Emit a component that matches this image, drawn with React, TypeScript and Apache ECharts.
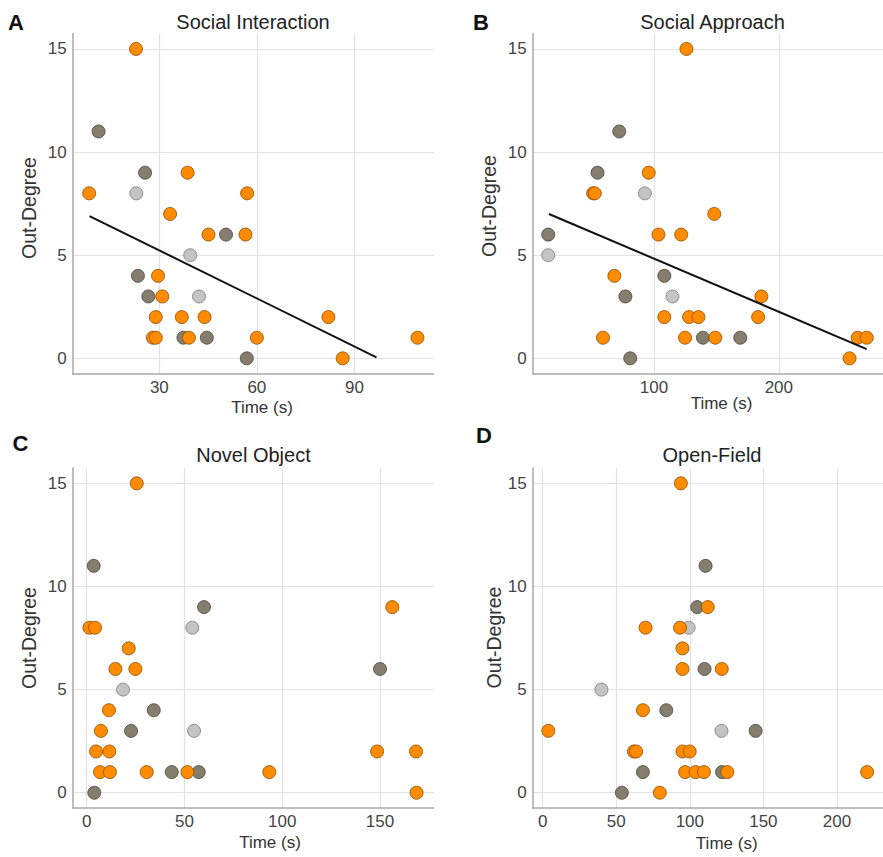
import React, { useEffect, useRef } from "react";
import * as echarts from "echarts";

// ---------- data ----------
const yTicks = [0, 5, 10, 15];
const siTicks = [30, 60, 90];
const saTicks = [100, 200];
const noTicks = [0, 50, 100, 150];
const ofTicks = [0, 50, 100, 150, 200];

const panelTitles = ["Social Interaction", "Social Approach", "Novel Object", "Open-Field"];
const panelLetters = ["A", "B", "C", "D"];

// Social Interaction: [time (s), out-degree]
const siOrange = [[22.8, 15], [38.7, 9], [8.4, 8], [57.0, 8], [33.3, 7], [45.1, 6], [56.5, 6], [29.6, 4], [30.9, 3], [28.9, 2], [36.9, 2], [43.9, 2], [82.0, 2], [28.0, 1], [28.9, 1], [39.1, 1], [60.0, 1], [109.4, 1], [86.4, 0]];
const siDark = [[11.3, 11], [25.6, 9], [50.5, 6], [23.4, 4], [26.6, 3], [37.4, 1], [44.6, 1], [56.9, 0]];
const siLight = [[22.9, 8], [39.5, 5], [42.2, 3]];
const siFit = [[8.5, 6.9], [96.8, 0.05]];

// Social Approach
const saOrange = [[126.0, 15], [95.8, 9], [51.3, 8], [52.6, 8], [148.3, 7], [103.6, 6], [121.8, 6], [68.3, 4], [186.0, 3], [108.3, 2], [128.1, 2], [135.6, 2], [183.4, 2], [59.2, 1], [124.9, 1], [149.1, 1], [263.1, 1], [270.4, 1], [256.6, 0]];
const saDark = [[72.2, 11], [54.8, 9], [15.3, 6], [108.3, 4], [77.1, 3], [139.2, 1], [169.1, 1], [81.0, 0]];
const saLight = [[92.7, 8], [15.3, 5], [114.8, 3]];
const saFit = [[15.9, 7.0], [270.3, 0.45]];

// Novel Object
const noOrange = [[25.6, 15], [156.3, 9], [1.4, 8], [4.3, 8], [21.5, 7], [14.7, 6], [24.9, 6], [11.4, 4], [7.3, 3], [4.8, 2], [11.6, 2], [148.5, 2], [168.4, 2], [6.8, 1], [11.9, 1], [30.7, 1], [51.5, 1], [93.4, 1], [168.7, 0]];
const noDark = [[3.6, 11], [60.0, 9], [150.0, 6], [34.3, 4], [22.7, 3], [43.5, 1], [57.3, 1], [3.9, 0]];
const noLight = [[54.0, 8], [18.6, 5], [54.9, 3]];

// Open-Field
const ofOrange = [[93.9, 15], [112.2, 9], [69.9, 8], [93.3, 8], [95.0, 7], [95.0, 6], [121.7, 6], [68.1, 4], [3.8, 3], [62.0, 2], [63.5, 2], [95.0, 2], [99.9, 2], [96.8, 1], [103.9, 1], [109.6, 1], [125.5, 1], [220.5, 1], [79.6, 0]];
const ofDark = [[110.7, 11], [105.0, 9], [110.0, 6], [84.0, 4], [144.7, 3], [68.1, 1], [121.9, 1], [53.8, 0]];
const ofLight = [[99.2, 8], [39.9, 5], [121.5, 3]];

// ---------- styles ----------
const FONT = "Liberation Sans, Arial, sans-serif";
const ORANGE = "#FF8C00";
const DARK = "#857D6E";
const LIGHT = "#C4C4C4";

const grids = [
  { left: 72.7, top: 33.5, width: 361, height: 340.3 },
  { left: 532.7, top: 33.5, width: 360, height: 340.3 },
  { left: 72.7, top: 467.9, width: 361, height: 340.3 },
  { left: 532.7, top: 467.9, width: 360, height: 340.3 },
];
const xRanges = [
  [3.34, 114.4],
  [2.9, 283.4],
  [-7.14, 177.45],
  [-6.81, 231.3],
];
const xTickSets = [siTicks, saTicks, noTicks, ofTicks];

export default function App() {
  const ref = useRef<HTMLDivElement>(null);

  useEffect(() => {
    if (!ref.current) return;
    const chart = echarts.init(ref.current, undefined, { renderer: "svg" });

    const axisLine = { show: true, onZero: false, lineStyle: { color: "#a8a8a8", width: 1.5 } };
    const splitLine = { show: true, lineStyle: { color: "#e2e2e2", width: 1.2 } };

    const xAxis = xTickSets.map((ticks, i) => ({
      type: "value",
      gridIndex: i,
      min: xRanges[i][0],
      max: xRanges[i][1],
      axisLine,
      axisTick: { show: false, customValues: ticks },
      axisLabel: { customValues: ticks, fontSize: 17, color: "#444", margin: 5, fontFamily: FONT },
      splitLine,
    }));
    const yAxis = grids.map((_, i) => ({
      type: "value",
      gridIndex: i,
      min: -0.75,
      max: 15.75,
      axisLine,
      axisTick: { show: false, customValues: yTicks },
      axisLabel: { customValues: yTicks, fontSize: 17, color: "#444", margin: 6, fontFamily: FONT },
      splitLine,
    }));

    const scatter = (data: number[][], idx: number, color: string, border: string) => ({
      type: "scatter",
      xAxisIndex: idx,
      yAxisIndex: idx,
      data,
      symbolSize: 13,
      itemStyle: { color, borderColor: border, borderWidth: 0.8, opacity: 1 },
      z: 3,
    });
    const fit = (data: number[][], idx: number) => ({
      type: "line",
      xAxisIndex: idx,
      yAxisIndex: idx,
      data,
      showSymbol: false,
      symbol: "none",
      lineStyle: { color: "#111", width: 2 },
      z: 5,
    });

    const series = [
      scatter(siDark, 0, DARK, "#4a4438"),
      scatter(siLight, 0, LIGHT, "#7a7a7a"),
      scatter(siOrange, 0, ORANGE, "#8a4b00"),
      fit(siFit, 0),
      scatter(saDark, 1, DARK, "#4a4438"),
      scatter(saLight, 1, LIGHT, "#7a7a7a"),
      scatter(saOrange, 1, ORANGE, "#8a4b00"),
      fit(saFit, 1),
      scatter(noDark, 2, DARK, "#4a4438"),
      scatter(noLight, 2, LIGHT, "#7a7a7a"),
      scatter(noOrange, 2, ORANGE, "#8a4b00"),
      scatter(ofDark, 3, DARK, "#4a4438"),
      scatter(ofLight, 3, LIGHT, "#7a7a7a"),
      scatter(ofOrange, 3, ORANGE, "#8a4b00"),
    ];

    const titlePos = [[253, 22], [712.5, 22], [253.5, 455], [712, 455]];
    const letterPos = [[8, 22], [473, 22], [12.5, 443], [476, 435]];
    const yNamePos = [[29, 208], [488.5, 206], [28.5, 638], [493.5, 637.5]];
    const xNamePos = [[262, 407.5], [721.5, 403], [270, 842], [726.7, 843]];

    const graphic: any[] = [];
    for (let i = 0; i < 4; i++) {
      graphic.push({
        type: "text",
        x: titlePos[i][0],
        y: titlePos[i][1],
        style: { text: panelTitles[i], fontSize: 20, fontFamily: FONT, fill: "#222", textAlign: "center", textVerticalAlign: "middle" },
      });
      graphic.push({
        type: "text",
        x: letterPos[i][0],
        y: letterPos[i][1],
        style: { text: panelLetters[i], fontSize: 22, fontWeight: "bold", fontFamily: FONT, fill: "#111", textAlign: "left", textVerticalAlign: "middle" },
      });
      graphic.push({
        type: "text",
        x: yNamePos[i][0],
        y: yNamePos[i][1],
        rotation: Math.PI / 2,
        style: { text: "Out-Degree", fontSize: 19.5, fontFamily: FONT, fill: "#333", textAlign: "center", textVerticalAlign: "middle" },
      });
      graphic.push({
        type: "text",
        x: xNamePos[i][0],
        y: xNamePos[i][1],
        style: { text: "Time (s)", fontSize: 17, fontFamily: FONT, fill: "#333", textAlign: "center", textVerticalAlign: "middle" },
      });
    }

    chart.setOption({
      animation: false,
      backgroundColor: "#ffffff",
      grid: grids,
      xAxis,
      yAxis,
      series,
      graphic,
    });

    return () => chart.dispose();
  }, []);

  return (
    <div
      ref={ref}
      style={{ position: "absolute", left: 0, top: 0, width: 883, height: 857, background: "#fff" }}
    />
  );
}
